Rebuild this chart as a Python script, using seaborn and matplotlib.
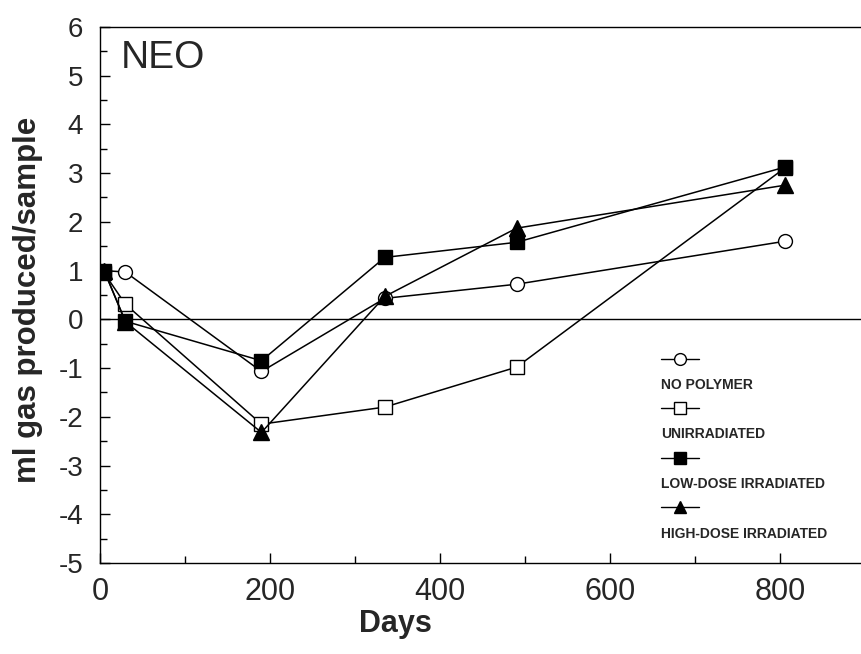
import matplotlib
matplotlib.use("Agg")
import matplotlib.pyplot as plt
from matplotlib.ticker import MultipleLocator
import seaborn as sns
import pandas as pd

sns.set_theme(style="white")
plt.rcParams['font.family'] = ['Liberation Sans', 'DejaVu Sans']
plt.rcParams['axes.unicode_minus'] = False

# ---- data ----
series_names = ["NO POLYMER", "UNIRRADIATED", "LOW-DOSE IRRADIATED", "HIGH-DOSE IRRADIATED"]
days_no_polymer = [5, 30, 190, 335, 490, 805]
gas_no_polymer = [1.0, 0.97, -1.07, 0.43, 0.72, 1.6]
days_unirr = [5, 30, 190, 335, 490, 805]
gas_unirr = [0.95, 0.31, -2.15, -1.8, -0.98, 3.1]
days_low = [5, 30, 190, 335, 490, 805]
gas_low = [1.0, -0.04, -0.85, 1.27, 1.58, 3.12]
days_high = [5, 30, 190, 335, 490, 805]
gas_high = [1.0, -0.05, -2.32, 0.47, 1.87, 2.75]

x_ticks = [0, 200, 400, 600, 800]
y_ticks = [-5, -4, -3, -2, -1, 0, 1, 2, 3, 4, 5, 6]

frames = []
for name, d, g in zip(series_names,
                      [days_no_polymer, days_unirr, days_low, days_high],
                      [gas_no_polymer, gas_unirr, gas_low, gas_high]):
    frames.append(pd.DataFrame({"Days": d, "gas": g, "series": name}))
df = pd.concat(frames, ignore_index=True)

styles = {
    "NO POLYMER": dict(marker="o", mfc="white", ms=10),
    "UNIRRADIATED": dict(marker="s", mfc="white", ms=10),
    "LOW-DOSE IRRADIATED": dict(marker="s", mfc="black", ms=10),
    "HIGH-DOSE IRRADIATED": dict(marker="^", mfc="black", ms=11),
}

fig = plt.figure(figsize=(8.61, 6.54), dpi=100)
ax = fig.add_axes([0.116, 0.139, 0.889, 0.82])

# zero line
ax.axhline(0, color="black", lw=1.0, zorder=1)

for name in series_names:
    st = styles[name]
    sub = df[df["series"] == name]
    sns.lineplot(data=sub, x="Days", y="gas", ax=ax, color="black", lw=1.1,
                 marker=st["marker"], markerfacecolor=st["mfc"],
                 markeredgecolor="black", markeredgewidth=1.0,
                 markersize=st["ms"], estimator=None, sort=False, zorder=3)

ax.set_xlim(0, 900)
ax.set_ylim(-5, 6)
ax.set_xticks(x_ticks)
ax.set_yticks(y_ticks)
ax.xaxis.set_minor_locator(MultipleLocator(100))
ax.yaxis.set_minor_locator(MultipleLocator(0.5))
ax.tick_params(axis="both", which="major", direction="in", length=7, width=1,
               color="black", bottom=True, left=True, top=False, right=False)
ax.tick_params(axis="both", which="minor", direction="in", length=5, width=1,
               color="black", bottom=True, left=True, top=False, right=False)
ax.tick_params(axis="x", labelsize=22, pad=10)
ax.tick_params(axis="y", labelsize=20, pad=12)

for side in ["left", "bottom", "top"]:
    ax.spines[side].set_visible(True)
    ax.spines[side].set_color("black")
    ax.spines[side].set_linewidth(1.0)
ax.spines["right"].set_visible(False)

ax.set_xlabel("Days", fontsize=22, fontweight="bold")
ax.xaxis.set_label_coords(0.386, -0.085)
ax.set_ylabel("ml gas produced/sample", fontsize=22.5, fontweight="bold")
ax.yaxis.set_label_coords(-0.074, 0.49)

ax.text(0.027, 0.975, "NEO", transform=ax.transAxes, fontsize=28,
        ha="left", va="top")

# custom legend: handle above label
leg_x0, leg_x1 = 0.733, 0.783
leg_y = [0.381, 0.289, 0.196, 0.104]
for name, yy in zip(series_names, leg_y):
    st = styles[name]
    ax.plot([leg_x0, leg_x1], [yy, yy], transform=ax.transAxes, color="black",
            lw=1.0, clip_on=False)
    ax.plot([(leg_x0 + leg_x1) / 2], [yy], transform=ax.transAxes,
            marker=st["marker"], markerfacecolor=st["mfc"], markeredgecolor="black",
            markersize=st["ms"] * 0.85, clip_on=False, linestyle="none")
    ax.text(leg_x0, yy - 0.049, name, transform=ax.transAxes, fontsize=10,
            fontweight="bold", ha="left", va="center")

fig.savefig("out.png", dpi=100)
